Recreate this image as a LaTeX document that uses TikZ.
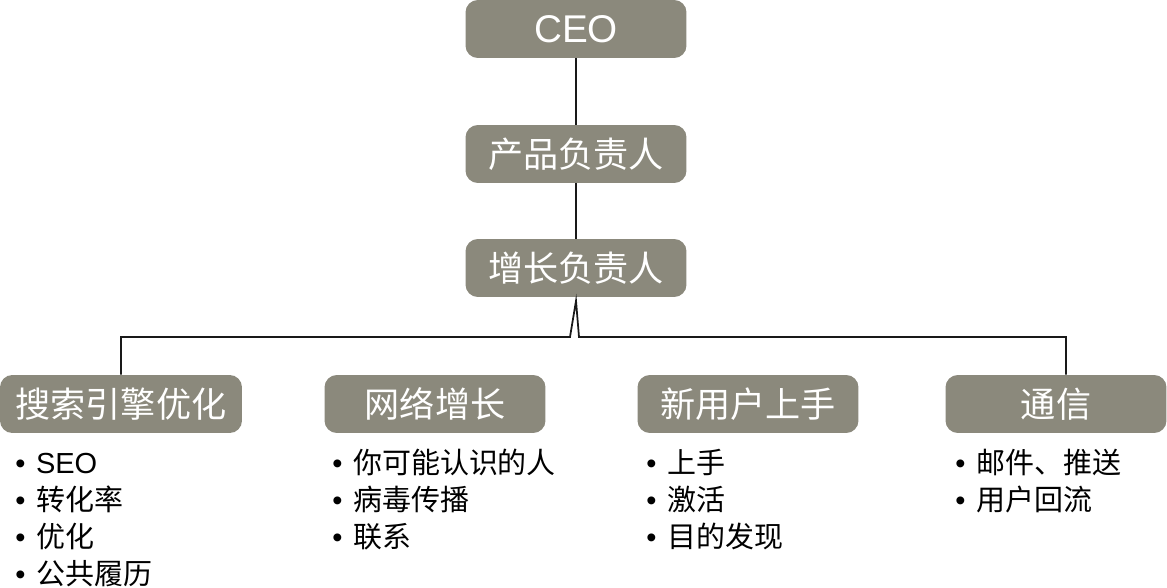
\documentclass[tikz,border=0pt]{standalone}
\usepackage{fontspec}
\setmainfont{Liberation Sans}
\newfontfamily\cjk{Noto Sans CJK SC}
\usetikzlibrary{positioning}
\definecolor{boxGray}{RGB}{139,137,124}
\colorlet{lineDark}{black!90}
\newcommand\lbul{\vphantom{转}{\rmfamily\textbullet}\hspace{6pt}}
\tikzset{
	rolebox/.style={fill=boxGray, rounded corners=7pt, minimum height=1.16cm, minimum width=4.42cm, inner sep=0pt, text=white, font=\cjk\fontsize{20}{24}\selectfont},
	itemlist/.style={anchor=north west, inner sep=0pt, align=left, font=\cjk\fontsize{16.5}{21}\selectfont},
	orgline/.style={draw=lineDark, line width=1pt},
}
\begin{document}
\begin{tikzpicture}[x=0.02cm, y=-0.02cm]
	\useasboundingbox (0,0) rectangle (1167,588);

	% management chain
	\node[rolebox, font=\rmfamily\fontsize{22}{26}\selectfont] (ceo) at (576,29) {CEO};
	\node[rolebox] (prod) at (576,154) {产品负责人};
	\node[rolebox] (grow) at (576,268) {增长负责人};

	% teams
	\node[rolebox, minimum width=4.84cm] (seo) at (121,404) {搜索引擎优化};
	\node[rolebox] (net) at (435,404) {网络增长};
	\node[rolebox] (onb) at (748,404) {新用户上手};
	\node[rolebox] (comm) at (1056,404) {通信};

	% team tasks
	\node[itemlist] (seolist) at (15,449) {\lbul{\rmfamily\fontsize{16.5}{21}\selectfont SEO}\\\lbul 转化率\\\lbul 优化\\\lbul 公共履历};
	\node[itemlist] (netlist) at (332,449) {\lbul 你可能认识的人\\\lbul 病毒传播\\\lbul 联系};
	\node[itemlist] (onblist) at (646,449) {\lbul 上手\\\lbul 激活\\\lbul 目的发现};
	\node[itemlist] (commlist) at (955,449) {\lbul 邮件、推送\\\lbul 用户回流};

	% connectors
	\coordinate (spikeL) at (570,337);
	\coordinate (spikeR) at (579,337);
	\path[orgline] (ceo) -- (prod);
	\path[orgline] (prod) -- (grow);
	\path[orgline] (seo.north) |- (spikeL) -- ([yshift=-2pt]grow.south) -- (spikeR) -| ([xshift=0.2cm]comm.north);
\end{tikzpicture}
\end{document}
